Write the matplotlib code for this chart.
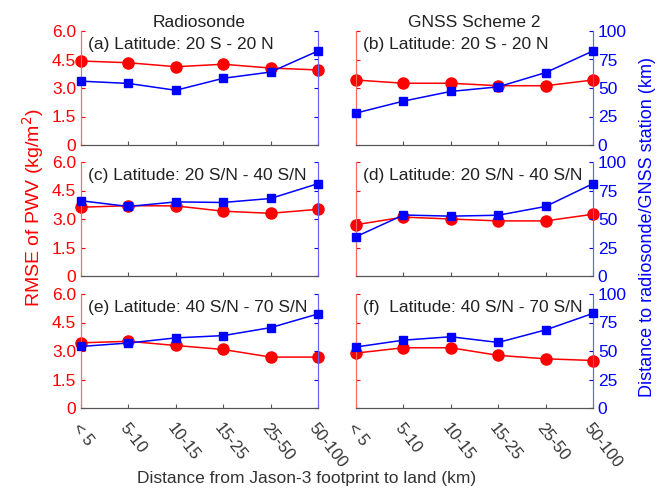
import matplotlib
matplotlib.use("Agg")
import matplotlib.pyplot as plt
import numpy as np

plt.rcParams['font.family'] = ['Liberation Sans', 'DejaVu Sans']

cats = ['< 5', '5-10', '10-15', '15-25', '25-50', '50-100']

# RMSE of PWV (kg/m2), left axis
rmse_a = [4.42, 4.33, 4.12, 4.25, 4.05, 3.95]
rmse_b = [3.42, 3.25, 3.25, 3.12, 3.12, 3.42]
rmse_c = [3.62, 3.70, 3.69, 3.41, 3.30, 3.51]
rmse_d = [2.70, 3.10, 3.00, 2.90, 2.90, 3.25]
rmse_e = [3.43, 3.51, 3.29, 3.08, 2.68, 2.68]
rmse_f = [2.89, 3.17, 3.17, 2.77, 2.59, 2.50]

# distance to radiosonde / GNSS station (km), right axis
dist_a = [56, 54, 48, 58.5, 64, 82.5]
dist_b = [28, 38.5, 47, 51, 63.5, 82.5]
dist_c = [66, 61, 65, 64.5, 68, 81]
dist_d = [34.5, 53.5, 52.5, 53.3, 61, 81]
dist_e = [54, 57, 61.5, 63.5, 70.5, 82.5]
dist_f = [53.5, 59.5, 62.5, 57.5, 68.5, 83]

labels = ['(a) Latitude: 20 S - 20 N', '(b) Latitude: 20 S - 20 N',
          '(c) Latitude: 20 S/N - 40 S/N', '(d) Latitude: 20 S/N - 40 S/N',
          '(e) Latitude: 40 S/N - 70 S/N', '(f)  Latitude: 40 S/N - 70 S/N']
rmse = [rmse_a, rmse_b, rmse_c, rmse_d, rmse_e, rmse_f]
dist = [dist_a, dist_b, dist_c, dist_d, dist_e, dist_f]

red = '#ff0000'
blue = '#0000ff'

fig = plt.figure(figsize=(6.68, 4.91), dpi=100)
W, H = 668, 491
lefts = [81, 356]
tops = [31, 162, 294]
aw, ah = 237, 114

x = np.arange(len(cats))
for k in range(6):
    r, c = k // 2, k % 2
    ax = fig.add_axes([lefts[c] / W, 1 - (tops[r] + ah) / H, aw / W, ah / H])
    ax2 = ax.twinx()
    ax.plot(x, rmse[k], '-o', color=red, lw=1.1, ms=8, zorder=3)
    ax2.plot(x, dist[k], '-s', color=blue, lw=1.1, ms=5.5, zorder=3)
    ax.set_xlim(0, 5)
    ax.set_ylim(0, 6)
    ax2.set_ylim(0, 100)
    ax.set_yticks([0, 1.5, 3.0, 4.5, 6.0])
    ax2.set_yticks([0, 25, 50, 75, 100])
    ax.set_xticks(x)
    for a in (ax, ax2):
        a.spines['top'].set_visible(False)
        a.spines['left'].set_color('#ff6666')
        a.spines['right'].set_color('#6666ff')
        a.spines['bottom'].set_color('#555555')
    for ln in ax.lines + ax2.lines:
        ln.set_clip_on(False)
    ax.tick_params(axis='y', direction='in', colors=red, labelsize=12.5, length=3)
    ax2.tick_params(axis='y', direction='in', colors=blue, labelsize=12.5, length=3)
    ax.tick_params(axis='x', direction='in', length=3, colors='#555555',
                   labelcolor='#333333', labelsize=12, pad=9)
    if c == 0:
        ax.set_yticklabels(['0', '1.5', '3.0', '4.5', '6.0'])
        ax2.set_yticklabels([])
    else:
        ax.set_yticklabels([])
    if r == 2:
        ax.set_xticklabels(cats, rotation=-52, ha='left', va='top',
                           rotation_mode='anchor')
    else:
        ax.set_xticklabels([])
    ax.text(0.03, 0.95, labels[k], transform=ax.transAxes, ha='left', va='top',
            fontsize=12.5, color='#222222')
    if r == 0:
        ax.set_title(['Radiosonde', 'GNSS Scheme 2'][c], fontsize=12.5,
                     color='#222222', pad=3)

fig.text(33 / W, 1 - 208 / H, 'RMSE of PWV (kg/m$^2$)', rotation=90, color=red,
         fontsize=14, ha='center', va='center')
fig.text(648 / W, 1 - 227 / H, 'Distance to radiosonde/GNSS station (km)',
         rotation=90, color=blue, fontsize=13, ha='center', va='center')
fig.text(307 / W, 1 - 479 / H, 'Distance from Jason-3 footprint to land (km)',
         color='#333333', fontsize=12.5, ha='center', va='center')

fig.savefig('out.png', dpi=100)
